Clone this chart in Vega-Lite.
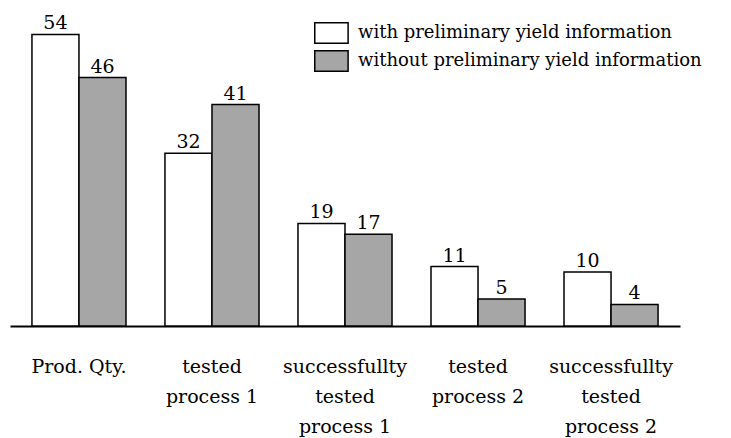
{
  "$schema": "https://vega.github.io/schema/vega-lite/v6.json",
  "width": 670,
  "height": 324,
  "autosize": "none",
  "padding": {"left": 10, "top": 2, "right": 51, "bottom": 112},
  "background": "white",
  "config": {"view": {"stroke": null}, "font": "DejaVu Serif"},
  "data": {
    "values": [
      {"step": "Prod. Qty.", "series": "with preliminary yield information", "count": 54},
      {"step": "Prod. Qty.", "series": "without preliminary yield information", "count": 46},
      {"step": "tested|process 1", "series": "with preliminary yield information", "count": 32},
      {"step": "tested|process 1", "series": "without preliminary yield information", "count": 41},
      {"step": "successfullty|tested|process 1", "series": "with preliminary yield information", "count": 19},
      {"step": "successfullty|tested|process 1", "series": "without preliminary yield information", "count": 17},
      {"step": "tested|process 2", "series": "with preliminary yield information", "count": 11},
      {"step": "tested|process 2", "series": "without preliminary yield information", "count": 5},
      {"step": "successfullty|tested|process 2", "series": "with preliminary yield information", "count": 10},
      {"step": "successfullty|tested|process 2", "series": "without preliminary yield information", "count": 4}
    ]
  },
  "encoding": {
    "x": {
      "field": "step",
      "type": "nominal",
      "sort": ["Prod. Qty.", "tested|process 1", "successfullty|tested|process 1", "tested|process 2", "successfullty|tested|process 2"],
      "scale": {"paddingInner": 0.293, "paddingOuter": 0.165},
      "axis": {
        "title": null,
        "labelExpr": "split(datum.label, '|')",
        "labelAngle": 0,
        "labelFont": "DejaVu Serif",
        "labelFontSize": 19,
        "labelColor": "black",
        "labelLineHeight": 30,
        "labelPadding": 31,
        "labelBaseline": "top",
        "labelOverlap": false,
        "labelBound": false,
        "labelLimit": 0,
        "ticks": false,
        "domain": true,
        "domainColor": "black",
        "domainWidth": 2,
        "grid": false
      }
    },
    "xOffset": {
      "field": "series",
      "type": "nominal",
      "sort": ["with preliminary yield information", "without preliminary yield information"],
      "scale": {"paddingInner": 0, "paddingOuter": 0}
    },
    "y": {
      "field": "count",
      "type": "quantitative",
      "scale": {"domain": [0, 60], "nice": false},
      "axis": null
    }
  },
  "layer": [
    {
      "mark": {"type": "bar", "stroke": "black", "strokeWidth": 1.5},
      "encoding": {
        "fill": {
          "field": "series",
          "type": "nominal",
          "sort": ["with preliminary yield information", "without preliminary yield information"],
          "scale": {"range": ["white", "#a6a6a6"]},
          "legend": {
            "title": null,
            "orient": "none",
            "legendX": 303,
            "legendY": 19.5,
            "padding": 0,
            "symbolType": "M-0.93,-0.93H2.1V0.93H-0.93Z",
            "symbolSize": 484,
            "symbolStrokeColor": "black",
            "symbolStrokeWidth": 1.5,
            "symbolOpacity": 1,
            "labelFont": "DejaVu Serif",
            "labelFontSize": 18,
            "labelColor": "black",
            "labelOffset": 21,
            "labelLimit": 0,
            "clipHeight": 23,
            "rowPadding": 5
          }
        }
      }
    },
    {
      "mark": {"type": "text", "baseline": "alphabetic", "dy": -5, "fontSize": 19, "font": "DejaVu Serif", "color": "black"},
      "encoding": {"text": {"field": "count", "type": "quantitative"}}
    }
  ]
}
